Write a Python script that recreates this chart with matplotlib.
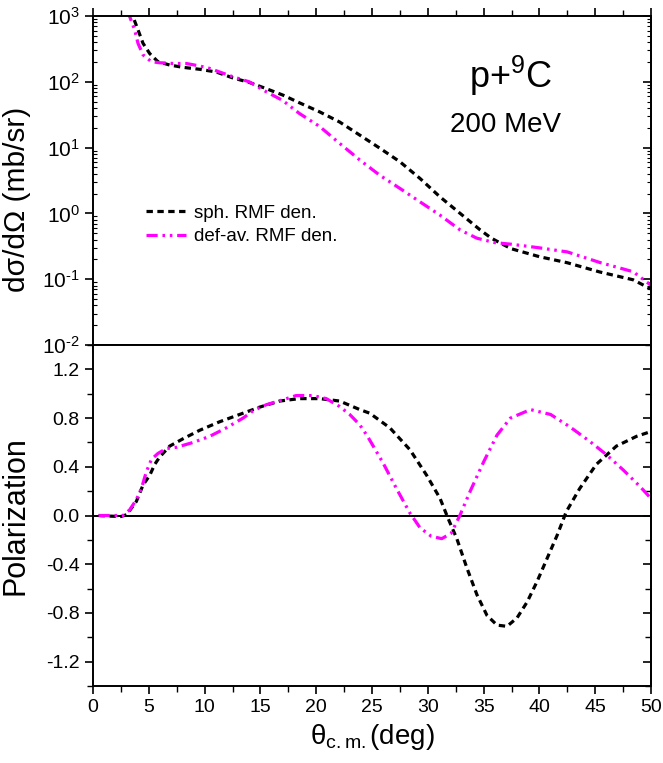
import numpy as np
import matplotlib
matplotlib.use("Agg")
import matplotlib.pyplot as plt
from matplotlib.ticker import LogLocator, MultipleLocator, NullFormatter, FuncFormatter

plt.rcParams['font.family'] = ['Liberation Sans', 'DejaVu Sans']
plt.rcParams['mathtext.fontset'] = 'custom'
plt.rcParams['mathtext.rm'] = 'Liberation Sans'
plt.rcParams['mathtext.it'] = 'Liberation Sans:italic'
plt.rcParams['mathtext.sf'] = 'Liberation Sans'
plt.rcParams['axes.unicode_minus'] = False

# cross section, spherical RMF density
th_sph_xs = [3.2, 3.58, 4.03, 4.48, 5.08, 5.82, 6.87, 8.06, 9.56, 11.05, 12.5, 14.0,
             15.5, 17.0, 18.5, 20.3, 22.1, 23.9, 25.7, 27.5, 29.3, 31.1, 32.9,
             34.7, 35.7, 36.7, 37.5, 40.0, 42.5, 45.4, 48.4, 50.0]
xs_sph = [1200, 977, 617, 385, 269, 202, 180, 166, 155, 141, 115, 98,
          79, 63, 48, 35, 24.5, 15.5, 9.8, 6.1, 3.4, 1.78, 1.0,
          0.56, 0.42, 0.34, 0.29, 0.22, 0.178, 0.129, 0.098, 0.071]

# cross section, deformation-averaged RMF density
th_def_xs = [3.0, 3.29, 3.73, 4.03, 4.48, 5.23, 5.97, 7.17, 8.36, 9.56, 10.45, 11.35,
             12.5, 14.0, 15.5, 17.0, 18.5, 20.3, 22.1, 23.9, 25.7, 27.5, 29.3,
             31.1, 32.9, 34.4, 36.0, 37.5, 40.0, 42.5, 45.4, 48.4, 50.0]
xs_def = [1200, 977, 617, 385, 257, 202, 195, 190, 190, 174, 160, 141,
          120, 100, 71, 52, 33, 21, 11.6, 6.5, 3.8, 2.4, 1.5,
          0.94, 0.56, 0.42, 0.36, 0.34, 0.30, 0.26, 0.18, 0.13, 0.081]

# polarization, spherical
th_sph_p = [0.5, 1.5, 2.5, 3.0, 3.88, 4.48, 5.08, 5.53, 5.97, 6.87, 8.06, 9.56, 11.35,
            13.14, 14.93, 16.73, 18.5, 20.3, 22.1, 23.9, 24.8, 26.6, 28.4, 29.9,
            31.1, 31.8, 32.6, 33.5, 34.4, 35.3, 36.2, 37.1, 38.0, 38.9, 39.8,
            40.7, 41.6, 42.4, 43.6, 45.1, 46.9, 48.7, 50.0]
p_sph = [0.0, -0.005, -0.008, 0.006, 0.115, 0.25, 0.33, 0.42, 0.48, 0.57, 0.63, 0.70, 0.77,
         0.83, 0.89, 0.94, 0.96, 0.96, 0.94, 0.87, 0.84, 0.72, 0.54, 0.33,
         0.14, -0.02, -0.19, -0.43, -0.65, -0.82, -0.90, -0.91, -0.84, -0.71, -0.54,
         -0.35, -0.16, 0.03, 0.22, 0.42, 0.57, 0.65, 0.69]

# polarization, deformation-averaged
th_def_p = [0.5, 1.5, 2.69, 3.29, 3.88, 4.33, 4.78, 5.23, 5.82, 6.57, 7.47, 8.96,
            10.45, 11.95, 13.44, 14.34, 15.53, 17.0, 18.2, 19.7, 20.9, 22.1, 23.0,
            23.9, 24.6, 26.0, 27.2, 28.4, 29.3, 30.3, 31.25, 32.1, 32.9, 33.8,
            35.0, 36.2, 37.4, 39.2, 41.0, 42.7, 44.5, 46.0, 47.5, 49.0, 50.0]
p_def = [0.0, 0.0, 0.0, 0.047, 0.13, 0.22, 0.36, 0.46, 0.51, 0.55, 0.56, 0.60,
         0.65, 0.72, 0.80, 0.86, 0.91, 0.95, 0.985, 0.985, 0.96, 0.895, 0.83,
         0.745, 0.65, 0.43, 0.22, 0.02, -0.10, -0.17, -0.19, -0.145, 0.006, 0.20,
         0.44, 0.66, 0.80, 0.87, 0.83, 0.73, 0.61, 0.50, 0.375, 0.24, 0.14]

dash_sph = (0, (2.0, 1.4))
dash_def = (0, (3.5, 1.5, 0.8, 1.5, 0.8, 1.5))
magenta = '#ff00ff'


def decade_label(v, pos):
    e = int(round(np.log10(v)))
    return r'$10^{\text{%d}}$' % e


fig = plt.figure(figsize=(6.63, 7.63), dpi=100)
ax1 = fig.add_axes([0.1403, 0.5478, 0.8416, 0.4312])
ax2 = fig.add_axes([0.1403, 0.1009, 0.8416, 0.4469])

# upper panel: differential cross section
ax1.plot(th_sph_xs, xs_sph, color='black', lw=2.3, ls=dash_sph, label='sph. RMF den.')
ax1.plot(th_def_xs, xs_def, color=magenta, lw=2.3, ls=dash_def, label='def-av. RMF den.')
ax1.set_yscale('log')
ax1.set_xlim(0, 50)
ax1.set_ylim(1e-2, 1e3)
ax1.yaxis.set_major_locator(LogLocator(base=10, numticks=10))
ax1.yaxis.set_major_formatter(FuncFormatter(decade_label))
ax1.yaxis.set_minor_locator(LogLocator(base=10, subs=np.arange(2, 10), numticks=10))
ax1.yaxis.set_minor_formatter(NullFormatter())
ax1.xaxis.set_major_locator(MultipleLocator(5))
ax1.xaxis.set_minor_locator(MultipleLocator(2.5))
ax1.tick_params(axis='x', which='both', top=True, bottom=True, labelbottom=False,
                direction='out')
ax1.tick_params(axis='y', which='major', direction='out', length=6, width=1.2, labelsize=15)
ax1.tick_params(axis='y', which='minor', direction='in', length=3, width=0.8)
ax1.tick_params(axis='x', which='major', length=6, width=1.2)
ax1.tick_params(axis='x', which='minor', length=4, width=1.0)
ax1.set_ylabel('dσ/dΩ (mb/sr)', fontsize=21.5)
ax1.yaxis.set_label_coords(-0.112, 0.444)
ax1.legend(loc='center left', bbox_to_anchor=(0.065, 0.365), frameon=False,
           fontsize=13.5, handlelength=2.1, handletextpad=0.45, labelspacing=0.35)
ax1.text(0.748, 0.78, r'p+$^{9}$C', transform=ax1.transAxes, fontsize=26,
         ha='center', va='baseline')
ax1.text(0.74, 0.668, '200 MeV', transform=ax1.transAxes, fontsize=20,
         ha='center', va='center')

sec1 = ax1.secondary_yaxis('right')
sec1.tick_params(which='both', direction='in', labelright=False)
sec1.tick_params(which='major', length=6, width=1.2)
sec1.tick_params(which='minor', length=3, width=0.8)

# lower panel: polarization
ax2.axhline(0.0, color='black', lw=1.4)
ax2.plot(th_sph_p, p_sph, color='black', lw=2.3, ls=dash_sph)
ax2.plot(th_def_p, p_def, color=magenta, lw=2.3, ls=dash_def)
ax2.set_xlim(0, 50)
ax2.set_ylim(-1.4, 1.4)
ax2.xaxis.set_major_locator(MultipleLocator(5))
ax2.xaxis.set_minor_locator(MultipleLocator(2.5))
ax2.yaxis.set_minor_locator(MultipleLocator(0.2))
ax2.set_yticks([-1.2, -0.8, -0.4, 0.0, 0.4, 0.8, 1.2])
ax2.yaxis.set_major_formatter(FuncFormatter(lambda v, p: f'{v:.1f}'))
ax2.tick_params(which='both', direction='out', labelsize=14)
ax2.tick_params(which='major', length=6, width=1.2)
ax2.tick_params(which='minor', length=4, width=1.0)
ax2.set_ylabel('Polarization', fontsize=22)
ax2.yaxis.set_label_coords(-0.112, 0.5)
ax2.set_xlabel(r'$\mathrm{\theta}_{\mathrm{c.m.}}$(deg)', fontsize=20, labelpad=4)

sec2 = ax2.secondary_yaxis('right')
sec2.yaxis.set_major_locator(MultipleLocator(0.4))
sec2.yaxis.set_minor_locator(MultipleLocator(0.2))
sec2.tick_params(which='both', direction='in', labelright=False)
sec2.tick_params(which='major', length=6, width=1.2)
sec2.tick_params(which='minor', length=4, width=1.0)

for ax in (ax1, ax2, sec1, sec2):
    for s in ax.spines.values():
        s.set_linewidth(1.4)

fig.savefig('out.png', dpi=100)
